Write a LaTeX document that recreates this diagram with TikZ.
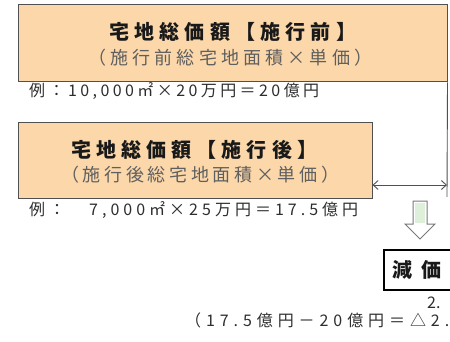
\documentclass[tikz,border=0pt]{standalone}
\usepackage{fontspec}
\newfontfamily\jp{Noto Sans CJK JP}
\usetikzlibrary{arrows.meta,calc}
\definecolor{boxfill}{RGB}{251,215,170}
\definecolor{boxline}{RGB}{80,80,80}
\definecolor{ttlcol}{RGB}{25,25,25}
\definecolor{subcol}{RGB}{95,95,95}
\definecolor{txtcol}{RGB}{45,45,45}
\definecolor{shaftfill}{RGB}{222,240,218}
\definecolor{arrowgray}{RGB}{120,120,120}
\makeatletter
\newcommand\sprd[2]{\hbox to #1{\def\sp@sep{}\@tfor\sp@c:=#2\do{\sp@sep\sp@c\def\sp@sep{\hfil}}}}
\makeatother
\tikzset{
  bx/.style={draw=boxline, line width=1pt, fill=boxfill, inner sep=0pt},
  resbox/.style={draw=black, line width=1.3pt, fill=white, inner sep=0pt},
  ttl/.style={inner sep=0pt, anchor=west, text=ttlcol, font=\jp\fontsize{20}{23}\selectfont\bfseries},
  subttl/.style={inner sep=0pt, anchor=west, text=subcol, font=\jp\fontsize{18}{21}\selectfont},
  ex/.style={inner sep=0pt, anchor=west, text=txtcol, font=\jp\fontsize{16}{19}\selectfont},
  conn/.style={draw=boxline, line width=0.9pt},
  dim/.style={conn, {Straight Barb[length=5pt,width=9pt]}-{Straight Barb[length=5pt,width=9pt]}},
  downarrow/.style={draw=arrowgray, line width=1pt, fill=white}
}
\begin{document}
\begin{tikzpicture}[x=1pt,y=-1pt]
\useasboundingbox (0,0) rectangle (450,342);
\clip (0,0) rectangle (450,342);
% boxes
\node[bx, minimum width=429pt, minimum height=77pt] (b1) at (232.5,43.5) {};
\node[bx, minimum width=354pt, minimum height=75pt] (b2) at (195,160.5) {};
\node[resbox, minimum width=80pt, minimum height=40pt] (b3) at (424,270) {};
% texts
\node[ttl] (t1) at (109,32) {\sprd{247pt}{宅地総価額【施行前】}};
\node[subttl] (s1) at (88,58) {\sprd{284pt}{（施行前総宅地面積×単価）}};
\node[ex] (e1) at (29,91) {\sprd{290pt}{例：10,000㎡×20万円＝20億円}};
\node[ttl] (t2) at (71,150) {\sprd{246pt}{宅地総価額【施行後】}};
\node[subttl] (s2) at (61,175) {\sprd{278pt}{（施行後総宅地面積×単価）}};
\node[ex] (e2) at (29,210.5) {\sprd{329pt}{例：　7,000㎡×25万円＝17.5億円}};
\node[ttl, font=\jp\fontsize{20}{23}\selectfont\bfseries] (t3) at (392,270) {減\kern9pt価};
\node[ex] (r1) at (427,303) {2.};
\node[ex] (r2) at (185,320) {\sprd{264pt}{（17.5億円－20億円＝△2.}};
% connectors
\coordinate (rb) at (447,197);
\coordinate (ay) at (447,185);
\draw[conn] (b1.south east) -- (rb);
\draw[dim] (b2.east |- ay) -- (ay);
% down arrow
\draw[downarrow] (413,201) -- (427,201) -- (427,224) -- (435,224) -- (420,239) -- (405,224) -- (413,224) -- cycle;
\fill[shaftfill] (415,203) rectangle (425,223);
\end{tikzpicture}
\end{document}
